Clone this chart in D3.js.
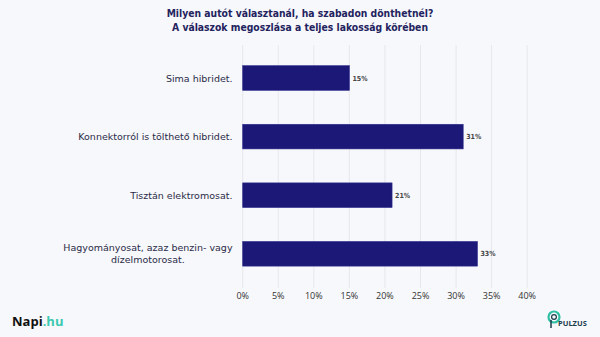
<!DOCTYPE html>
<html><head><meta charset="utf-8">
<script src="https://cdn.jsdelivr.net/npm/d3@7"></script>
<style>
html,body{margin:0;padding:0;background:#f7f8fb;}
svg{display:block;}
</style></head>
<body>
<script>
const categories = [
  ["Sima hibridet."],
  ["Konnektorról is tölthető hibridet."],
  ["Tisztán elektromosat."],
  ["Hagyományosat, azaz benzin- vagy", "dízelmotorosat."]
];
const values = [15, 31, 21, 33];
const ticks = [0, 5, 10, 15, 20, 25, 30, 35, 40];
const titleLines = ["Milyen autót választanál, ha szabadon dönthetnél?", "A válaszok megoszlása a teljes lakosság körében"];

const W = 600, H = 337;
const svg = d3.select("body").append("svg").attr("width", W).attr("height", H);
svg.append("rect").attr("width", W).attr("height", H).attr("fill", "#f7f8fb");

const x = d3.scaleLinear().domain([0, 40]).range([242.7, 527.2]);
const y = d3.scaleBand().domain(d3.range(categories.length)).range([48.7, 283.1]).paddingInner(0.58).paddingOuter(0.29);

const font = "'DejaVu Sans Condensed','DejaVu Sans',sans-serif";

// grid
svg.append("g").selectAll("line").data(ticks).join("line")
  .attr("x1", d => x(d)).attr("x2", d => x(d))
  .attr("y1", 45).attr("y2", 288)
  .attr("stroke", "#e6e7ec").attr("stroke-width", 1);

// title
svg.append("g").selectAll("text").data(titleLines).join("text")
  .attr("x", 300).attr("y", (d, i) => 17 + i * 14)
  .attr("text-anchor", "middle")
  .attr("font-family", font).attr("font-weight", "bold").attr("font-size", 10.3)
  .attr("fill", "#23235e").text(d => d);

// bars
svg.append("g").selectAll("rect").data(values).join("rect")
  .attr("x", x(0)).attr("y", (d, i) => y(i))
  .attr("width", d => x(d) - x(0)).attr("height", y.bandwidth())
  .attr("fill", "#1c1878").attr("stroke", "#2b2a8a").attr("stroke-width", 0.6);

// value labels
svg.append("g").selectAll("text").data(values).join("text")
  .attr("x", d => x(d) + 3).attr("y", (d, i) => y(i) + y.bandwidth() / 2 + 2.5)
  .attr("font-family", font).attr("font-size", 7).attr("font-weight", "bold")
  .attr("fill", "#444").text(d => d + "%");

// category labels
const lab = svg.append("g").selectAll("text").data(categories).join("text")
  .attr("text-anchor", "end")
  .attr("font-family", "'DejaVu Sans',sans-serif").attr("font-size", 9.5).attr("fill", "#2a2a48")
  .attr("y", (d, i) => y(i) + y.bandwidth() / 2 + 3.5 - (d.length - 1) * 6);
lab.each(function(d) {
  const t = d3.select(this);
  d.forEach((line, j) => {
    t.append("tspan").attr("x", 232.5).attr("dy", j === 0 ? 0 : 12).text(line);
  });
});
lab.filter(d => d.length > 1).each(function(d) {
  const spans = d3.select(this).selectAll("tspan").nodes();
  const w0 = spans[0].getComputedTextLength();
  const w1 = spans[1].getComputedTextLength();
  d3.select(spans[1]).attr("x", 232.5 - (w0 - w1) / 2);
});

// x axis tick labels
svg.append("g").selectAll("text").data(ticks).join("text")
  .attr("x", d => x(d)).attr("y", 299)
  .attr("text-anchor", "middle")
  .attr("font-family", "'Open Sans',sans-serif").attr("font-size", 9).attr("fill", "#333")
  .text(d => d + "%");

// Napi.hu logo
const logo = svg.append("text").attr("x", 12).attr("y", 326)
  .attr("font-family", "'Open Sans','Roboto',sans-serif").attr("font-weight", "bold").attr("font-size", 13);
logo.append("tspan").attr("fill", "#111").text("Napi");
logo.append("tspan").attr("fill", "#3cc9b0").text(".hu");

// Pulzus logo
const pz = svg.append("g");
pz.append("circle").attr("cx", 554).attr("cy", 317).attr("r", 5.5)
  .attr("fill", "none").attr("stroke", "#2fbfa5").attr("stroke-width", 2.2);
pz.append("circle").attr("cx", 554).attr("cy", 317).attr("r", 2.4)
  .attr("fill", "none").attr("stroke", "#1b3b4a").attr("stroke-width", 1.2);
pz.append("line").attr("x1", 551).attr("y1", 320).attr("x2", 551).attr("y2", 328)
  .attr("stroke", "#1b3b4a").attr("stroke-width", 1.5);
pz.append("text").attr("x", 558).attr("y", 326)
  .attr("font-family", "'Open Sans',sans-serif").attr("font-size", 7.5).attr("font-weight", "bold")
  .attr("fill", "#1b3b4a").text("PULZUS");
</script>
</body></html>
